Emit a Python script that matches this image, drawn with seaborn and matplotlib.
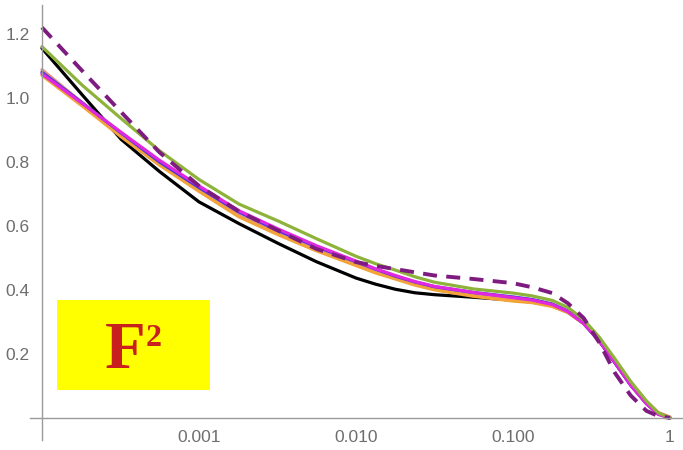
import numpy as np
import pandas as pd
import matplotlib
matplotlib.use("Agg")
import matplotlib.pyplot as plt
from matplotlib.patches import Rectangle
from matplotlib.ticker import FixedLocator, FixedFormatter, NullFormatter
import seaborn as sns

# momentum fraction grid (log spaced, denser near the knee) and curve values
x = [0.0001, 0.00018, 0.00032, 0.00056, 0.001, 0.0018, 0.0032, 0.0056, 0.01,
     0.0133, 0.0178, 0.0237, 0.0316, 0.056, 0.1, 0.133, 0.178, 0.224, 0.282,
     0.355, 0.447, 0.562, 0.708, 0.841, 1.0]

black = [1.155, 1.01, 0.87, 0.77, 0.675, 0.607, 0.545, 0.488, 0.437,
         0.418, 0.402, 0.391, 0.385, 0.377, 0.368, 0.362, 0.35, 0.33, 0.295,
         0.24, 0.172, 0.103, 0.045, 0.013, 0.0]
salmon = [1.088, 0.985, 0.883, 0.792, 0.71, 0.632, 0.575, 0.525, 0.48,
          0.458, 0.438, 0.42, 0.404, 0.384, 0.368, 0.363, 0.351, 0.332, 0.298,
          0.245, 0.178, 0.11, 0.052, 0.017, 0.003]
orange = [1.07, 0.975, 0.878, 0.79, 0.708, 0.628, 0.572, 0.522, 0.476,
          0.453, 0.434, 0.415, 0.4, 0.38, 0.365, 0.36, 0.348, 0.329, 0.295,
          0.243, 0.176, 0.108, 0.05, 0.015, 0.0]
blue = [1.08, 0.985, 0.89, 0.80, 0.72, 0.643, 0.585, 0.535, 0.488,
        0.465, 0.443, 0.425, 0.41, 0.392, 0.378, 0.37, 0.356, 0.334, 0.296,
        0.24, 0.172, 0.103, 0.046, 0.013, 0.0]
magenta = [1.075, 0.983, 0.892, 0.805, 0.725, 0.647, 0.59, 0.538, 0.49,
           0.466, 0.445, 0.426, 0.411, 0.392, 0.376, 0.368, 0.354, 0.332, 0.295,
           0.24, 0.172, 0.102, 0.044, 0.011, 0.0]
green = [1.16, 1.04, 0.935, 0.835, 0.745, 0.668, 0.615, 0.56, 0.505,
         0.482, 0.462, 0.441, 0.424, 0.403, 0.39, 0.381, 0.367, 0.345, 0.307,
         0.252, 0.184, 0.114, 0.053, 0.016, 0.0]
dashed = [1.22, 1.085, 0.955, 0.83, 0.725, 0.645, 0.585, 0.528, 0.487,
          0.475, 0.465, 0.455, 0.445, 0.434, 0.421, 0.408, 0.39, 0.358, 0.312,
          0.235, 0.14, 0.07, 0.022, 0.006, 0.0]

xtick_vals = [0.001, 0.01, 0.1, 1.0]
xtick_labels = ["0.001", "0.010", "0.100", "1"]
ytick_vals = [0.2, 0.4, 0.6, 0.8, 1.0, 1.2]
ytick_labels = ["0.2", "0.4", "0.6", "0.8", "1.0", "1.2"]

sns.set_style("white")
plt.rcParams["font.family"] = ["Liberation Sans", "DejaVu Sans"]

W, H = 683, 450
fig = plt.figure(figsize=(W / 100, H / 100), dpi=100)
ax = fig.add_axes([30 / W, 10 / H, (W - 30) / W, 435 / H])

series = [
    (black, "#000000", "-", 2.3),
    (salmon, "#E8907A", "-", 2.3),
    (orange, "#F2A438", "-", 2.3),
    (blue, "#4A36DC", "-", 2.3),
    (magenta, "#E028E0", "-", 2.3),
    (green, "#8DB33A", "-", 2.3),
    (dashed, "#7E1B80", (0, (3.6, 2.4)), 2.8),
]
for vals, col, ls, lw in series:
    df = pd.DataFrame({"x": x, "y": vals})
    sns.lineplot(data=df, x="x", y="y", ax=ax, color=col, linestyle=ls,
                 linewidth=lw, estimator=None, sort=False)

ax.set_xscale("log")
ax.set_xlim(10 ** -4.076, 10 ** 0.083)
ax.set_ylim(-0.069, 1.29)
ax.set_xlabel("")
ax.set_ylabel("")

axis_col = "#9A9A9A"
label_col = "#6E6E6E"
for side in ("top", "right"):
    ax.spines[side].set_visible(False)
ax.spines["left"].set_position(("data", 1e-4))
ax.spines["bottom"].set_position(("data", 0.0))
for side in ("left", "bottom"):
    ax.spines[side].set_color(axis_col)
    ax.spines[side].set_linewidth(1.0)

ax.xaxis.set_major_locator(FixedLocator(xtick_vals))
ax.xaxis.set_major_formatter(FixedFormatter(xtick_labels))
minor_x = [m * 10.0 ** e for e in range(-4, 0) for m in range(2, 10)]
ax.xaxis.set_minor_locator(FixedLocator(minor_x))
ax.xaxis.set_minor_formatter(NullFormatter())

ax.yaxis.set_major_locator(FixedLocator(ytick_vals))
ax.yaxis.set_major_formatter(FixedFormatter(ytick_labels))
minor_y = [round(v, 2) for v in np.arange(-0.05, 1.28, 0.05)
           if round(v * 20) % 4 != 0]
ax.yaxis.set_minor_locator(FixedLocator(minor_y))

ax.tick_params(axis="both", which="major", direction="in", length=6, width=1,
               color=axis_col, labelcolor=label_col, labelsize=12.5)
ax.tick_params(axis="both", which="minor", direction="in", length=3.5, width=0.8,
               color=axis_col)
ax.tick_params(axis="x", which="major", pad=9)
ax.tick_params(axis="y", which="major", pad=9)

# yellow label box with the quantity name
box = Rectangle((57 / W, 60 / H), 153 / W, 90 / H, transform=fig.transFigure,
                facecolor="#FFFF00", edgecolor="none", zorder=5)
fig.patches.append(box)
serif = ["Liberation Serif", "DejaVu Serif"]
fig.text(105 / W, 1 - 368 / H, "F", fontsize=48, family=serif, weight="bold",
         color="#C8201E", ha="left", va="baseline", zorder=6)
fig.text(145.5 / W, 1 - 346 / H, "2", fontsize=23, family=serif, weight="bold",
         color="#C8201E", ha="left", va="baseline", zorder=6)

fig.savefig("out.png", dpi=100)
